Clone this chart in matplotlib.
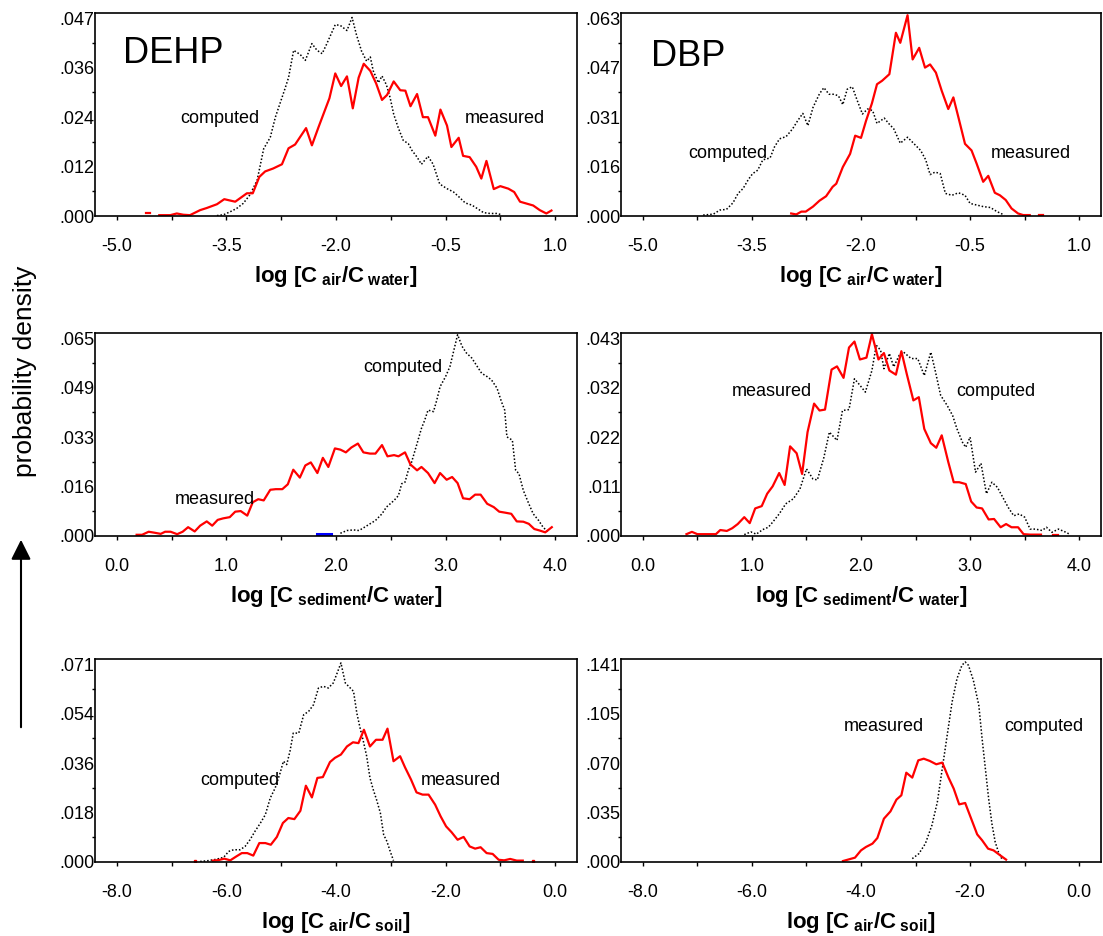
import matplotlib
matplotlib.use("Agg")
import matplotlib.pyplot as plt
from matplotlib.patches import FancyArrowPatch

plt.rcParams["font.family"] = ["Liberation Sans", "DejaVu Sans"]
plt.rcParams["axes.unicode_minus"] = False
plt.rcParams["mathtext.fontset"] = "custom"
plt.rcParams["mathtext.rm"] = "Liberation Sans"
plt.rcParams["mathtext.bf"] = "Liberation Sans:bold"
plt.rcParams["mathtext.it"] = "Liberation Sans:italic"

# ---- DEHP, log[Cair/Cwater] ----
dehp_aw_meas_x = [-4.42, -4.27, -4.18, -4.09, -4.00, -3.86, -3.77, -3.63, -3.53, -3.38, -3.22, -3.14,
                  -3.05, -2.97, -2.86, -2.74, -2.65, -2.56, -2.41, -2.33, -2.24, -2.09, -2.01, -1.93,
                  -1.85, -1.77, -1.69, -1.62, -1.53, -1.45, -1.37, -1.30, -1.21, -1.12, -1.05, -0.98,
                  -0.89, -0.81, -0.74, -0.64, -0.57, -0.48, -0.42, -0.32, -0.26, -0.17, -0.08, -0.01,
                  0.06, 0.16, 0.25, 0.36, 0.44, 0.52, 0.60, 0.70, 0.79, 0.88, 0.95]
dehp_aw_meas_y = [.0002, .0002, .0006, .0003, .0002, .0014, .0019, .0028, .0040, .0034, .0054, .0054,
                  .0093, .0106, .0113, .0123, .0161, .0170, .0209, .0168, .0211, .0280, .0339, .0309,
                  .0332, .0256, .0329, .0362, .0345, .0315, .0276, .0288, .0320, .0299, .0298, .0261,
                  .0290, .0235, .0235, .0191, .0253, .0215, .0164, .0186, .0143, .0140, .0117, .0089,
                  .0131, .0064, .0071, .0065, .0057, .0034, .0030, .0025, .0014, .0006, .0013]
dehp_aw_comp_x = [-3.63, -3.54, -3.45, -3.36, -3.27, -3.18, -3.08, -2.99, -2.90, -2.83, -2.77, -2.70,
                  -2.65, -2.58, -2.49, -2.42, -2.33, -2.26, -2.19, -2.13, -2.01, -1.94, -1.85, -1.78,
                  -1.72, -1.65, -1.58, -1.53, -1.49, -1.42, -1.37, -1.31, -1.26, -1.21, -1.15, -1.08,
                  -1.01, -0.96, -0.89, -0.83, -0.74, -0.67, -0.58, -0.48, -0.39, -0.32, -0.23, -0.14,
                  -0.05, 0.02, 0.11, 0.20, 0.27]
dehp_aw_comp_y = [.0001, .0003, .0010, .0018, .0030, .0050, .0085, .0160, .0187, .0235, .0266, .0302,
                  .0329, .0394, .0384, .0370, .0410, .0394, .0386, .0408, .0455, .0453, .0441, .0472,
                  .0431, .0392, .0368, .0378, .0345, .0317, .0333, .0312, .0282, .0242, .0211, .0180,
                  .0172, .0156, .0140, .0123, .0142, .0123, .0076, .0065, .0057, .0046, .0031, .0026,
                  .0016, .0008, .0006, .0006, .0003]
dehp_aw_meas_dot = ([-4.60, -4.55], [.0006, .0006])

# ---- DBP, log[Cair/Cwater] ----
dbp_aw_meas_x = [-2.96, -2.89, -2.82, -2.76, -2.66, -2.57, -2.48, -2.39, -2.34, -2.25, -2.15, -2.08,
                 -2.00, -1.93, -1.85, -1.78, -1.71, -1.61, -1.52, -1.46, -1.36, -1.29, -1.20, -1.12,
                 -1.05, -0.97, -0.89, -0.80, -0.73, -0.66, -0.57, -0.48, -0.41, -0.32, -0.25, -0.16,
                 -0.09, -0.01, 0.07, 0.16, 0.23, 0.32]
dbp_aw_meas_y = [.0008, .0005, .0014, .0014, .0030, .0049, .0063, .0093, .0103, .0156, .0198, .0256,
                 .0249, .0304, .0359, .0420, .0431, .0452, .0584, .0552, .0640, .0499, .0536, .0473,
                 .0483, .0457, .0399, .0341, .0378, .0314, .0230, .0209, .0167, .0109, .0128, .0074,
                 .0066, .0051, .0024, .0008, .0003, .0003]
dbp_aw_comp_x = [-4.17, -4.03, -3.94, -3.85, -3.76, -3.69, -3.62, -3.55, -3.49, -3.42, -3.35, -3.25,
                 -3.19, -3.12, -3.03, -2.94, -2.87, -2.80, -2.73, -2.66, -2.57, -2.51, -2.44, -2.37,
                 -2.31, -2.25, -2.19, -2.12, -2.05, -1.98, -1.91, -1.84, -1.78, -1.68, -1.62, -1.55,
                 -1.46, -1.36, -1.27, -1.18, -1.11, -1.05, -0.98, -0.91, -0.84, -0.75, -0.66, -0.57,
                 -0.50, -0.41, -0.32, -0.22, -0.13, -0.03]
dbp_aw_comp_y = [.0003, .0006, .0019, .0021, .0042, .0072, .0088, .0116, .0135, .0146, .0179, .0185,
                 .0220, .0246, .0253, .0278, .0304, .0327, .0288, .0346, .0390, .0409, .0388, .0388,
                 .0383, .0355, .0404, .0412, .0367, .0325, .0341, .0336, .0295, .0312, .0295, .0278,
                 .0232, .0251, .0230, .0209, .0179, .0132, .0140, .0135, .0072, .0066, .0074, .0066,
                 .0040, .0035, .0030, .0027, .0014, .0003]
dbp_aw_meas_dot = ([0.45, 0.50], [.0004, .0004])

# ---- DEHP, log[Csediment/Cwater] ----
dehp_sw_meas_x = [0.18, 0.23, 0.29, 0.34, 0.40, 0.44, 0.49, 0.55, 0.60, 0.65, 0.71, 0.76, 0.82, 0.87,
                  0.92, 0.97, 1.03, 1.08, 1.13, 1.19, 1.24, 1.29, 1.34, 1.40, 1.45, 1.51, 1.56, 1.61,
                  1.67, 1.72, 1.77, 1.83, 1.88, 1.93, 1.99, 2.04, 2.09, 2.14, 2.20, 2.25, 2.31, 2.36,
                  2.42, 2.47, 2.53, 2.57, 2.63, 2.68, 2.74, 2.78, 2.84, 2.90, 2.95, 3.01, 3.06, 3.11,
                  3.16, 3.22, 3.27, 3.32, 3.38, 3.44, 3.49, 3.54, 3.60, 3.65, 3.71, 3.76, 3.81, 3.86,
                  3.91, 3.97]
dehp_sw_meas_y = [.0004, .0004, .0014, .0011, .0007, .0014, .0014, .0006, .0014, .0029, .0015, .0034,
                  .0048, .0034, .0053, .0058, .0062, .0080, .0082, .0067, .0111, .0121, .0117, .0152,
                  .0154, .0154, .0170, .0218, .0192, .0232, .0242, .0207, .0257, .0227, .0288, .0284,
                  .0275, .0291, .0304, .0275, .0271, .0271, .0299, .0262, .0266, .0262, .0275, .0235,
                  .0216, .0227, .0207, .0174, .0207, .0185, .0194, .0174, .0124, .0121, .0136, .0136,
                  .0106, .0095, .0080, .0077, .0073, .0048, .0047, .0040, .0023, .0018, .0012, .0029]
dehp_sw_comp_x = [2.04, 2.10, 2.16, 2.21, 2.27, 2.31, 2.36, 2.42, 2.46, 2.53, 2.57, 2.60, 2.63, 2.66,
                  2.69, 2.74, 2.78, 2.81, 2.84, 2.89, 2.92, 2.95, 3.00, 3.04, 3.07, 3.11, 3.15, 3.19,
                  3.24, 3.29, 3.33, 3.38, 3.42, 3.47, 3.51, 3.54, 3.56, 3.61, 3.64, 3.67, 3.71, 3.76,
                  3.80, 3.85, 3.89, 3.94]
dehp_sw_comp_y = [.0009, .0018, .0020, .0018, .0031, .0040, .0051, .0073, .0095, .0117, .0133, .0172,
                  .0177, .0216, .0243, .0304, .0354, .0381, .0414, .0409, .0447, .0491, .0524, .0557,
                  .0602, .0662, .0624, .0602, .0585, .0557, .0535, .0524, .0513, .0486, .0442, .0414,
                  .0326, .0315, .0216, .0205, .0150, .0106, .0073, .0051, .0029, .0012]
dehp_sw_blue = ([1.83, 1.95], [.0005, .0005])

# ---- DBP, log[Csediment/Cwater] ----
dbp_sw_meas_x = [0.40, 0.45, 0.50, 0.55, 0.61, 0.67, 0.71, 0.77, 0.82, 0.87, 0.93, 0.98, 1.03, 1.09,
                 1.14, 1.19, 1.25, 1.30, 1.35, 1.41, 1.46, 1.51, 1.57, 1.62, 1.67, 1.73, 1.78, 1.84,
                 1.89, 1.94, 1.99, 2.05, 2.10, 2.16, 2.21, 2.26, 2.32, 2.37, 2.42, 2.48, 2.53, 2.58,
                 2.64, 2.69, 2.74, 2.80, 2.85, 2.90, 2.96, 3.01, 3.06, 3.11, 3.17, 3.22, 3.28, 3.33,
                 3.38, 3.44, 3.49, 3.55, 3.65]
dbp_sw_meas_y = [.0004, .0009, .0004, .0004, .0004, .0004, .0013, .0011, .0017, .0026, .0041, .0028,
                 .0060, .0065, .0092, .0108, .0137, .0111, .0195, .0180, .0135, .0226, .0288, .0273,
                 .0275, .0362, .0369, .0344, .0410, .0423, .0384, .0388, .0439, .0384, .0398, .0360,
                 .0351, .0402, .0352, .0295, .0302, .0233, .0202, .0192, .0219, .0161, .0117, .0117,
                 .0113, .0075, .0062, .0060, .0036, .0037, .0019, .0026, .0019, .0019, .0004, .0003,
                 .0003]
dbp_sw_comp_x = [0.93, 0.99, 1.04, 1.10, 1.15, 1.19, 1.25, 1.31, 1.38, 1.44, 1.50, 1.56, 1.60, 1.66,
                 1.71, 1.78, 1.83, 1.89, 1.94, 1.99, 2.04, 2.10, 2.14, 2.18, 2.21, 2.26, 2.30, 2.35,
                 2.39, 2.46, 2.52, 2.58, 2.64, 2.68, 2.73, 2.79, 2.84, 2.88, 2.93, 2.96, 3.00, 3.05,
                 3.10, 3.15, 3.20, 3.25, 3.30, 3.35, 3.40, 3.45, 3.50, 3.55, 3.60, 3.66, 3.70, 3.75,
                 3.81, 3.87, 3.92]
dbp_sw_comp_y = [.0003, .0009, .0004, .0014, .0019, .0030, .0048, .0070, .0081, .0102, .0146, .0124,
                 .0122, .0171, .0226, .0208, .0273, .0275, .0342, .0328, .0313, .0360, .0415, .0404,
                 .0364, .0397, .0368, .0393, .0400, .0386, .0386, .0349, .0400, .0360, .0306, .0284,
                 .0262, .0233, .0204, .0193, .0215, .0139, .0158, .0092, .0117, .0106, .0084, .0062,
                 .0044, .0048, .0041, .0015, .0015, .0012, .0019, .0008, .0015, .0009, .0003]
dbp_sw_meas_dot = ([3.76, 3.81], [.0003, .0003])

# ---- DEHP, log[Cair/Csoil] ----
dehp_as_meas_x = [-6.25, -6.14, -6.04, -5.93, -5.82, -5.72, -5.62, -5.51, -5.40, -5.29, -5.19, -5.08,
                  -4.97, -4.87, -4.76, -4.65, -4.55, -4.44, -4.34, -4.24, -4.11, -4.02, -3.91, -3.80,
                  -3.69, -3.59, -3.49, -3.38, -3.27, -3.15, -3.06, -2.95, -2.83, -2.74, -2.63, -2.53,
                  -2.42, -2.31, -2.19, -2.09, -1.99, -1.89, -1.78, -1.67, -1.56, -1.46, -1.36, -1.25,
                  -1.14, -1.03, -0.93, -0.82, -0.70, -0.59]
dehp_as_meas_y = [.0005, .0007, .0012, .0006, .0020, .0032, .0032, .0023, .0068, .0068, .0062, .0090,
                  .0140, .0158, .0154, .0184, .0274, .0232, .0302, .0305, .0359, .0374, .0386, .0415,
                  .0430, .0427, .0475, .0415, .0439, .0439, .0479, .0362, .0380, .0340, .0296, .0250,
                  .0242, .0242, .0206, .0164, .0128, .0107, .0080, .0090, .0056, .0048, .0053, .0032,
                  .0029, .0008, .0006, .0011, .0005, .0005]
dehp_as_comp_x = [-6.48, -6.33, -6.18, -6.05, -5.96, -5.87, -5.75, -5.66, -5.57, -5.48, -5.38, -5.29,
                  -5.20, -5.11, -5.02, -4.96, -4.90, -4.84, -4.78, -4.68, -4.59, -4.50, -4.41, -4.32,
                  -4.23, -4.14, -4.05, -3.99, -3.91, -3.83, -3.74, -3.68, -3.62, -3.56, -3.50, -3.44,
                  -3.38, -3.32, -3.26, -3.19, -3.13, -3.07, -3.01, -2.95]
dehp_as_comp_y = [.0002, .0005, .0010, .0017, .0038, .0044, .0044, .0056, .0080, .0110, .0140, .0170,
                  .0230, .0266, .0320, .0362, .0350, .0398, .0463, .0463, .0529, .0541, .0565, .0625,
                  .0631, .0625, .0643, .0673, .0715, .0643, .0625, .0613, .0535, .0481, .0433, .0380,
                  .0302, .0260, .0224, .0176, .0098, .0074, .0038, .0005]
dehp_as_meas_dots = ([-6.57, -0.40], [.0005, .0005])

# ---- DBP, log[Cair/Csoil] ----
dbp_as_meas_x = [-4.33, -4.11, -4.00, -3.91, -3.79, -3.70, -3.58, -3.46, -3.35, -3.26, -3.17, -3.06,
                 -2.95, -2.85, -2.74, -2.62, -2.51, -2.40, -2.30, -2.20, -2.09, -1.98, -1.87, -1.78,
                 -1.67, -1.57, -1.45, -1.34]
dbp_as_meas_y = [.0007, .0031, .0083, .0107, .0131, .0171, .0309, .0361, .0445, .0476, .0637, .0602,
                 .0725, .0737, .0721, .0697, .0709, .0606, .0523, .0411, .0421, .0309, .0197, .0155,
                 .0095, .0083, .0048, .0017]
dbp_as_comp_x = [-3.06, -2.94, -2.82, -2.70, -2.60, -2.51, -2.42, -2.33, -2.24, -2.15, -2.09, -2.03,
                 -1.94, -1.84, -1.78, -1.72, -1.66, -1.60, -1.54, -1.48, -1.42]
dbp_as_comp_y = [.0024, .0059, .0131, .0262, .0428, .0666, .0904, .1141, .1308, .1403, .1427, .1403,
                 .1296, .1118, .0880, .0666, .0452, .0273, .0143, .0071, .0024]

# ---- axis ticks ----
aw_xlim = (-5.3, 1.3)
aw_major = [-5.0, -3.5, -2.0, -0.5, 1.0]
aw_minor = [-4.25, -2.75, -1.25, 0.25]
sw_xlim = (-0.2, 4.2)
sw_major = [0.0, 1.0, 2.0, 3.0, 4.0]
sw_minor = [0.5, 1.5, 2.5, 3.5]
as_xlim = (-8.4, 0.4)
as_major = [-8.0, -6.0, -4.0, -2.0, 0.0]
as_minor = [-7.0, -5.0, -3.0, -1.0]

dehp_aw_yticks = [".000", ".012", ".024", ".036", ".047"]
dbp_aw_yticks = [".000", ".016", ".031", ".047", ".063"]
dehp_sw_yticks = [".000", ".016", ".033", ".049", ".065"]
dbp_sw_yticks = [".000", ".011", ".022", ".032", ".043"]
dehp_as_yticks = [".000", ".018", ".036", ".054", ".071"]
dbp_as_yticks = [".000", ".035", ".070", ".105", ".141"]

lbl_aw = r"log [C$_{\mathbf{\ air}}$/C$_{\mathbf{\ water}}$]"
lbl_sw = r"log [C$_{\mathbf{\ sediment}}$/C$_{\mathbf{\ water}}$]"
lbl_as = r"log [C$_{\mathbf{\ air}}$/C$_{\mathbf{\ soil}}$]"

W, H = 1103, 936
fig = plt.figure(figsize=(W / 100, H / 100), dpi=100)


def panel(px_left, px_top, px_w, xlim, major, minor, ylabels, top, xlabel):
    ax = fig.add_axes([px_left / W, 1 - (px_top + 203) / H, px_w / W, 203 / H])
    ax.set_xlim(*xlim)
    ax.set_ylim(0, top * 1.027)
    ax.set_xticks(major)
    ax.set_xticklabels(["%.1f" % v for v in major])
    ax.set_xticks(minor, minor=True)
    ax.set_yticks([top * k / 4 for k in range(5)])
    ax.set_yticklabels(ylabels)
    ax.set_yticks([top * (k + 0.5) / 4 for k in range(4)], minor=True)
    ax.tick_params(axis="x", which="both", direction="out", length=3, width=1, pad=13, labelsize=13)
    ax.tick_params(axis="y", which="major", length=0, pad=0.3, labelsize=13)
    ax.tick_params(axis="y", which="minor", direction="out", length=2, width=1)
    for s in ax.spines.values():
        s.set_linewidth(1.2)
    ax.set_xlabel(xlabel, fontsize=16, fontweight="bold")
    ax.xaxis.set_label_coords(0.5, -0.235)
    return ax


def curves(ax, mx, my, cx, cy):
    ax.plot(cx, cy, color="black", lw=1.1, ls=(0, (1, 1.3)))
    ax.plot(mx, my, color="#ff0000", lw=1.6)


txt = dict(fontsize=13, ha="center", va="center")

# top row
ax = panel(95, 13, 482, aw_xlim, aw_major, aw_minor, dehp_aw_yticks, 0.047, lbl_aw)
curves(ax, dehp_aw_meas_x, dehp_aw_meas_y, dehp_aw_comp_x, dehp_aw_comp_y)
ax.plot(*dehp_aw_meas_dot, color="#ff0000", lw=1.6)
ax.text(0.058, 0.80, "DEHP", fontsize=26, ha="left", va="center", transform=ax.transAxes)
ax.text(0.258, 0.482, "computed", transform=ax.transAxes, **txt)
ax.text(0.851, 0.482, "measured", transform=ax.transAxes, **txt)

ax = panel(621, 13, 480, aw_xlim, aw_major, aw_minor, dbp_aw_yticks, 0.063, lbl_aw)
curves(ax, dbp_aw_meas_x, dbp_aw_meas_y, dbp_aw_comp_x, dbp_aw_comp_y)
ax.plot(*dbp_aw_meas_dot, color="#ff0000", lw=1.6)
ax.text(0.062, 0.787, "DBP", fontsize=26, ha="left", va="center", transform=ax.transAxes)
ax.text(0.223, 0.31, "computed", transform=ax.transAxes, **txt)
ax.text(0.853, 0.31, "measured", transform=ax.transAxes, **txt)

# middle row
ax = panel(95, 333, 482, sw_xlim, sw_major, sw_minor, dehp_sw_yticks, 0.065, lbl_sw)
curves(ax, dehp_sw_meas_x, dehp_sw_meas_y, dehp_sw_comp_x, dehp_sw_comp_y)
ax.plot(*dehp_sw_blue, color="#0000ff", lw=2.2)
ax.text(0.639, 0.831, "computed", transform=ax.transAxes, **txt)
ax.text(0.248, 0.179, "measured", transform=ax.transAxes, **txt)

ax = panel(621, 333, 480, sw_xlim, sw_major, sw_minor, dbp_sw_yticks, 0.043, lbl_sw)
curves(ax, dbp_sw_meas_x, dbp_sw_meas_y, dbp_sw_comp_x, dbp_sw_comp_y)
ax.plot(*dbp_sw_meas_dot, color="#ff0000", lw=1.6)
ax.text(0.315, 0.712, "measured", transform=ax.transAxes, **txt)
ax.text(0.781, 0.712, "computed", transform=ax.transAxes, **txt)

# bottom row
ax = panel(95, 659, 482, as_xlim, as_major, as_minor, dehp_as_yticks, 0.071, lbl_as)
curves(ax, dehp_as_meas_x, dehp_as_meas_y, dehp_as_comp_x, dehp_as_comp_y)
ax.plot(dehp_as_meas_dots[0], dehp_as_meas_dots[1], ls="none", marker="s", ms=1.5, color="#ff0000")
ax.text(0.30, 0.40, "computed", transform=ax.transAxes, **txt)
ax.text(0.760, 0.40, "measured", transform=ax.transAxes, **txt)

ax = panel(621, 659, 480, as_xlim, as_major, as_minor, dbp_as_yticks, 0.141, lbl_as)
curves(ax, dbp_as_meas_x, dbp_as_meas_y, dbp_as_comp_x, dbp_as_comp_y)
ax.text(0.547, 0.666, "measured", transform=ax.transAxes, **txt)
ax.text(0.881, 0.666, "computed", transform=ax.transAxes, **txt)

# shared y label with arrow
fig.text(25 / W, 1 - 371 / H, "probability density", rotation=90, fontsize=19,
         ha="center", va="center")
arrow = FancyArrowPatch((21 / W, 1 - 730 / H), (21 / W, 1 - 537 / H), transform=fig.transFigure,
                        arrowstyle="-|>,head_length=0.6,head_width=0.3", mutation_scale=20,
                        lw=1.5, color="black")
fig.add_artist(arrow)

fig.savefig("out.png", dpi=100)
